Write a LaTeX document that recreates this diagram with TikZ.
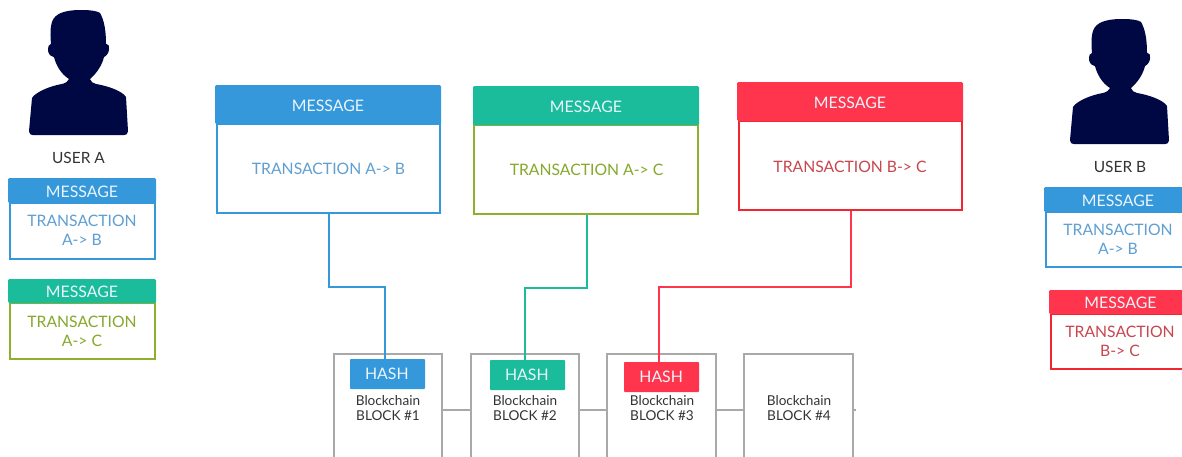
\documentclass[tikz,border=0pt]{standalone}
\usepackage{fontspec}
\setmainfont{Lato}
\definecolor{hblue}{HTML}{3498DB}
\definecolor{hgreen}{HTML}{1ABC9C}
\definecolor{hred}{HTML}{FF354D}
\definecolor{bolive}{HTML}{8DB02D}
\definecolor{bred}{HTML}{F2262F}
\definecolor{tblue}{HTML}{5F9FD2}
\definecolor{tolive}{HTML}{86A82C}
\definecolor{tred}{HTML}{C8474F}
\definecolor{navy}{HTML}{000844}
\definecolor{gline}{HTML}{A9A9A9}
\definecolor{ink}{HTML}{333333}
% #1 name, #2 left, #3 header top, #4 right, #5 header bottom, #6 body bottom,
% #7 inset, #8 header colour, #9 border colour
\newcommand\msgbox[9]{%
  \node[bodybox,draw=#9,minimum width={(#4-#2-2*#7)*0.75pt},minimum height={(#6-#5)*0.75pt}]
    (#1body) at ({(#2+#4)/2},{(#5+#6)/2}) {};
  \node[headbox,fill=#8,minimum width={(#4-#2)*0.75pt},minimum height={(#5-#3)*0.75pt}]
    (#1head) at ({(#2+#4)/2},{(#3+#5)/2}) {\raisebox{-0.75pt}[8.6pt][0pt]{MESSAGE}};
}
\tikzset{
  bodybox/.style={rectangle,inner sep=0pt,line width=1.5pt,fill=white},
  headbox/.style={rectangle,inner sep=0pt,rounded corners=1pt,text=white!90!hblue,font=\fontsize{11.9}{14}\selectfont},
  bodytext/.style={align=center,inner sep=0pt,font=\fontsize{11.8}{14.25}\selectfont},
  wire/.style={line width=1.5pt,line join=miter},
  blockbox/.style={rectangle,draw=gline,line width=1.6pt,inner sep=0pt,minimum width=81.5pt,minimum height=84pt},
  blocktext/.style={align=center,inner sep=0pt,text=ink,font=\fontsize{10.2}{11.3}\selectfont},
  hashbox/.style={rectangle,inner sep=0pt,rounded corners=0.6pt,minimum width=56.25pt,minimum height=22.5pt,text=white!90!hblue,font=\fontsize{11.9}{14}\selectfont},
  link/.style={draw=gline,line width=1.5pt},
  usertext/.style={inner sep=0pt,text=ink,font=\fontsize{11.6}{13}\selectfont},
  person/.pic={
    \fill[navy,rounded corners=0.3pt] (29,131) -- (32,98) .. controls (36,92) and (50,86) .. (62,84)
      .. controls (66,83) and (68,81) .. (69,79) .. controls (61,74) and (56,65) .. (54,57)
      .. controls (49,56) and (48,52) .. (48,49) .. controls (48,46) and (49,45) .. (51,44)
      .. controls (50,32) and (50,21) .. (56,16) .. controls (62,11) and (72,10) .. (82,10)
      .. controls (90,10) and (97,11) .. (100,13) .. controls (104,20) and (106,30) .. (106,44)
      .. controls (109,44) and (109,46) .. (109,49) .. controls (109,53) and (106,56) .. (104,57)
      .. controls (102,65) and (97,73) .. (90,79) .. controls (91,82) and (93,83) .. (96,84)
      .. controls (108,86) and (122,91) .. (126,97) -- (128,131)
      .. controls (128,134) and (126,135) .. (124,135) -- (33,135)
      .. controls (31,135) and (29,134) .. (29,131) -- cycle;
  }
}
\begin{document}
\begin{tikzpicture}[x=0.75pt,y=-0.75pt]
\useasboundingbox (0,0) rectangle (1182,457);
\clip (0,0) rectangle (1182,457);
\fill[white] (0,0) rectangle (1182,457);
% users
\pic (usera) at (0,0) {person};
\pic (userb) at (1041,9) {person};
\node[usertext] (labela) at (78.5,158) {USER A};
\node[usertext] (labelb) at (1120,167) {USER B};
% small boxes
\msgbox{sa}{8}{178}{156}{203}{259}{1.5}{hblue}{hblue}
\node[bodytext,text=tblue] (satext) at (82,230.5) {TRANSACTION\\A-> B};
\msgbox{sc}{8}{279}{156}{303}{359}{1.5}{hgreen}{bolive}
\node[bodytext,text=tolive] (sctext) at (82,331) {TRANSACTION\\A-> C};
\msgbox{sb}{1044}{187}{1192}{212}{267}{1.5}{hblue}{hblue}
\node[bodytext,text=tblue] (sbtext) at (1118,239.5) {TRANSACTION\\A-> B};
\msgbox{sr}{1049}{290}{1192}{314}{369}{2}{hred}{bred}
\node[bodytext,text=tred] (srtext) at (1120,341) {TRANSACTION\\B-> C};
% blocks
\node[blockbox] (block1) at (388,410) {};
\node[blockbox] (block2) at (525,410) {};
\node[blockbox] (block3) at (661.5,410) {};
\node[blockbox] (block4) at (798.5,410) {};
\coordinate (stub) at (856,410);
\draw[link] (block1.east) -- (block2.west);
\draw[link] (block2.east) -- (block3.west);
\draw[link] (block3.east) -- (block4.west);
\draw[link] (block4.east) -- (stub);
\node[blocktext] (text1) at (388,408) {Blockchain\\BLOCK \#1};
\node[blocktext] (text2) at (525,408) {Blockchain\\BLOCK \#2};
\node[blocktext] (text3) at (662,408) {Blockchain\\BLOCK \#3};
\node[blocktext] (text4) at (799,408) {Blockchain\\BLOCK \#4};
% hashes
\node[hashbox,fill=hblue] (hash1) at (387.5,374) {\hspace{-1pt}HASH};
\node[hashbox,fill=hgreen] (hash2) at (527.5,375) {\hspace{-1pt}HASH};
\node[hashbox,fill=hred] (hash3) at (661.5,377) {\hspace{-0.5pt}HASH};
% big boxes
\msgbox{ba}{215}{85}{441}{124}{213}{1.5}{hblue}{hblue}
\node[bodytext,text=tblue] (batext) at (328.5,169) {TRANSACTION A-> B};
\msgbox{bc}{473}{86}{699}{125}{214}{1}{hgreen}{bolive}
\node[bodytext,text=tolive] (bctext) at (586.5,170) {TRANSACTION A-> C};
\msgbox{br}{737}{82}{963}{121}{210}{1.5}{hred}{bred}
\node[bodytext,text=tred] (brtext) at (850,167) {TRANSACTION B-> C};
% connectors
\coordinate (kneeA) at (385,287);
\coordinate (kneeC) at (525,288);
\coordinate (kneeR) at (659,287);
\draw[wire,draw=hblue] ([xshift=0.4pt]babody.south) |- (kneeA) -- (kneeA |- hash1.north);
\draw[wire,draw=hgreen] ([xshift=0.4pt]bcbody.south) |- (kneeC) -- (kneeC |- hash2.north);
\draw[wire,draw=hred] ([xshift=0.4pt]brbody.south) |- (kneeR) -- (kneeR |- hash3.north);
\end{tikzpicture}
\end{document}
